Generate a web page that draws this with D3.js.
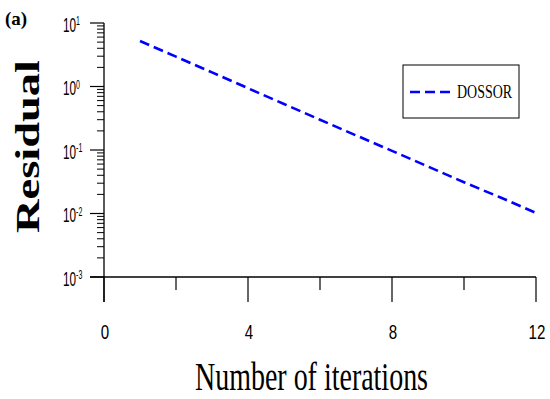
<!DOCTYPE html>
<html>
<head>
<meta charset="UTF-8">
<script src="https://d3js.org/d3.v7.min.js"></script>
<style>
  body { margin: 0; background: #fff; }
</style>
</head>
<body>
<div class="canvas"></div>
<script>
  // data
  const iterations = [1, 2, 3, 4, 5, 6, 7, 8, 9, 10, 11, 12];
  const dossor = [5.2, 2.95, 1.67, 0.94, 0.53, 0.30, 0.17, 0.097, 0.055, 0.031, 0.018, 0.0102];
  const xTicks = [0, 4, 8, 12];
  const xMinorTicks = [2, 6, 10];
  const yExponents = [1, 0, -1, -2, -3];

  const width = 550, height = 399;
  const svg = d3.select('.canvas').append('svg')
    .attr('width', width).attr('height', height);

  const x = d3.scaleLinear().domain([0, 12]).range([104, 536]);
  const y = d3.scaleLog().domain([1e-3, 10]).range([277, 23]);

  const sans = '"Liberation Sans", Arial, sans-serif';
  const serif = '"Liberation Serif", "Times New Roman", serif';

  // y axis line (extends below x axis)
  svg.append('line')
    .attr('x1', x(0)).attr('x2', x(0))
    .attr('y1', y(10)).attr('y2', 302)
    .attr('stroke', '#000').attr('stroke-width', 1.3);

  // x axis line (extends left of y axis)
  svg.append('line')
    .attr('x1', 90).attr('x2', x(12))
    .attr('y1', y(1e-3)).attr('y2', y(1e-3))
    .attr('stroke', '#000').attr('stroke-width', 1.3);

  // y major ticks
  const yg = svg.append('g');
  yg.selectAll('.ymaj').data(yExponents).enter().append('line')
    .attr('x1', 90).attr('x2', x(0))
    .attr('y1', d => y(Math.pow(10, d))).attr('y2', d => y(Math.pow(10, d)))
    .attr('stroke', '#000').attr('stroke-width', 1.2);

  // y minor ticks
  const minor = [];
  yExponents.slice(1).forEach(e => {
    for (let m = 2; m <= 9; m++) minor.push(m * Math.pow(10, e));
  });
  yg.selectAll('.ymin').data(minor).enter().append('line')
    .attr('x1', 97).attr('x2', x(0))
    .attr('y1', d => y(d)).attr('y2', d => y(d))
    .attr('stroke', '#000').attr('stroke-width', 1);

  // y tick labels 10^n, squeezed horizontally like the original narrow font
  const ylab = yg.selectAll('.ylab').data(yExponents).enter().append('g')
    .attr('transform', d => `translate(63, ${y(Math.pow(10, d)) + 8.5}) scale(0.56, 1)`)
    .append('text')
    .attr('x', 0).attr('y', 0)
    .attr('font-family', sans).attr('font-size', 21);
  ylab.append('tspan').text('10');
  ylab.append('tspan')
    .attr('font-size', 12.5).attr('dy', -6.5)
    .text(d => d);

  // x ticks
  const xg = svg.append('g');
  xg.selectAll('.xmaj').data(xTicks).enter().append('line')
    .attr('x1', d => x(d)).attr('x2', d => x(d))
    .attr('y1', y(1e-3)).attr('y2', 302)
    .attr('stroke', '#000').attr('stroke-width', 1.2);
  xg.selectAll('.xmin').data(xMinorTicks).enter().append('line')
    .attr('x1', d => x(d)).attr('x2', d => x(d))
    .attr('y1', y(1e-3)).attr('y2', 290)
    .attr('stroke', '#000').attr('stroke-width', 1.2);
  xg.selectAll('.xlab').data(xTicks).enter().append('g')
    .attr('transform', d => `translate(${x(d) + 1}, 339) scale(0.72, 1)`)
    .append('text')
    .attr('text-anchor', 'middle')
    .attr('font-family', sans).attr('font-size', 21)
    .text(d => d);

  // series
  const line = d3.line()
    .x((d, i) => x(iterations[i]))
    .y(d => y(d));
  svg.append('path')
    .datum(dossor)
    .attr('d', line)
    .attr('fill', 'none')
    .attr('stroke', '#0000ff')
    .attr('stroke-width', 2.6)
    .attr('stroke-dasharray', '10,5');

  // legend
  svg.append('rect')
    .attr('x', 403).attr('y', 65).attr('width', 116).attr('height', 53)
    .attr('fill', '#fff').attr('stroke', '#000').attr('stroke-width', 1);
  svg.append('line')
    .attr('x1', 410).attr('x2', 451).attr('y1', 92).attr('y2', 92)
    .attr('stroke', '#0000ff').attr('stroke-width', 2.6)
    .attr('stroke-dasharray', '10,5');
  svg.append('text')
    .attr('x', 457).attr('y', 98)
    .attr('font-family', serif).attr('font-size', 18)
    .attr('textLength', 55).attr('lengthAdjust', 'spacingAndGlyphs')
    .text('DOSSOR');

  // axis titles
  svg.append('text')
    .attr('x', 195).attr('y', 390)
    .attr('font-family', serif).attr('font-size', 40)
    .attr('textLength', 233).attr('lengthAdjust', 'spacingAndGlyphs')
    .text('Number of iterations');

  svg.append('text')
    .attr('transform', 'translate(39,233) rotate(-90)')
    .attr('font-family', serif).attr('font-size', 33).attr('font-weight', 'bold')
    .attr('textLength', 173).attr('lengthAdjust', 'spacingAndGlyphs')
    .text('Residual');

  svg.append('text')
    .attr('x', 5).attr('y', 25)
    .attr('font-family', serif).attr('font-size', 19).attr('font-weight', 'bold')
    .text('(a)');
</script>
</body>
</html>
